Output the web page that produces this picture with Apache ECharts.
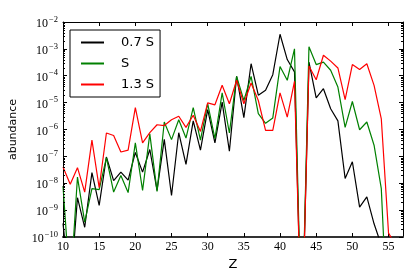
<!DOCTYPE html>
<html>
<head>
<meta charset="utf-8">
<script src="https://cdn.jsdelivr.net/npm/echarts@6/dist/echarts.min.js"></script>
<style>html,body{margin:0;padding:0;background:#fff;}#c{width:415px;height:280px;}</style>
</head>
<body>
<div id="c"></div>
<script>
const zValues = [10,11,12,13,14,15,16,17,18,19,20,21,22,23,24,25,26,27,28,29,30,31,32,33,34,35,36,37,38,39,40,41,42,43,44,45,46,47,48,49,50,51,52,53,54,55,56];
const seriesNames = ['0.7 S', 'S', '1.3 S'];
const abund07 = [3.2e-10,1e-12,2.9e-9,2.3e-10,2.5e-8,1.5e-9,9.5e-8,1.26e-8,2.6e-8,1.3e-8,1.4e-7,2.6e-8,1.8e-7,5.4e-9,4.3e-7,3.5e-9,7.6e-7,5.0e-8,2.1e-6,1.7e-7,5.5e-6,3.2e-7,1.05e-5,1.55e-7,9.5e-5,2.75e-6,2.8e-4,1.9e-5,2.9e-5,1.1e-4,3.5e-3,4.0e-4,1.4e-4,1e-14,3.2e-4,1.5e-5,3.3e-5,5.9e-6,2.1e-6,1.5e-8,6.3e-8,1.3e-9,3.1e-9,3.1e-10,5e-11,1e-14,1e-14];
const abund10 = [7.9e-9,1e-12,1.7e-8,3.6e-10,6.3e-9,5.8e-9,8.9e-8,4.7e-9,1.95e-8,4.5e-9,3.2e-7,5.4e-9,6.9e-7,5.0e-9,1.9e-6,4.2e-7,2.3e-6,4.8e-7,6.5e-6,4.0e-7,9.1e-6,4.6e-7,2.3e-5,7.4e-7,9.5e-5,1.2e-5,9.5e-5,3.9e-6,1.7e-6,2.7e-6,2.2e-4,6.8e-5,1.0e-3,1e-14,1.2e-3,2.6e-4,3.2e-4,1.6e-4,3.8e-5,1.2e-6,1.1e-5,9.8e-7,1.9e-6,2.6e-7,6.3e-9,1e-14,1e-14];
const abund13 = [4.0e-8,9.1e-9,3.8e-8,4.7e-9,4.0e-7,6.8e-9,7.4e-7,6.0e-7,1.45e-7,1.7e-7,6.5e-6,3.2e-7,7.6e-7,1.5e-6,1.4e-6,2.3e-6,3.1e-6,1.2e-6,3.4e-6,8.5e-7,9.8e-6,8.3e-6,4.4e-5,9.1e-6,6.8e-5,9.1e-6,5.4e-5,1.2e-5,9.3e-7,9.3e-7,2.3e-5,2.9e-6,6.2e-5,1e-14,2.3e-4,7.1e-5,5.8e-4,3.5e-4,1.95e-4,1.3e-5,2.6e-4,1.7e-4,2.8e-4,4.4e-5,2.5e-6,1.4e-10,5e-11];
const xTickLabels = ['10','15','20','25','30','35','40','45','50','55'];
const yTickExponents = [-10,-9,-8,-7,-6,-5,-4,-3,-2];
const colors = ['#000000', '#008000', '#ff0000'];

const decades = [-10,-9,-8,-7,-6,-5,-4,-3];
const minorMult = [2,3,4,5,6,7,8,9];
const minorTicks = [];
decades.forEach(d => minorMult.forEach(m => minorTicks.push([m * Math.pow(10, d)])));

function pairs(arr){ return zValues.map((z,i)=>[z, arr[i]]); }

const chart = echarts.init(document.getElementById('c'), null, {renderer:'canvas'});
const serif = 'Liberation Serif';
const sans = 'DejaVu Sans';
chart.setOption({
  animation: false,
  backgroundColor: '#ffffff',
  grid: {left: 62, right: 12, top: 22, bottom: 43, containLabel: false},
  legend: {
    show: true, orient: 'vertical', left: 70, top: 30,
    data: seriesNames.map(n => ({name: n, itemStyle: {opacity: 0}})),
    itemStyle: {opacity: 0},
    borderColor: '#000', borderWidth: 1, borderRadius: 0,
    padding: [6, 6, 6, 10], itemWidth: 23, itemHeight: 14, itemGap: 8,
    textStyle: {fontFamily: sans, fontSize: 13, color: '#000', padding: [0,0,0,12]}
  },
  xAxis: [{
    type: 'value', min: 10, max: 57, interval: 5,
    name: 'Z', nameLocation: 'middle', nameGap: 17,
    nameTextStyle: {fontFamily: sans, fontSize: 13, color: '#000'},
    axisLine: {show: true, onZero: false, lineStyle: {color: '#333', width: 2}},
    axisTick: {show: true, inside: true, length: 4, lineStyle: {color: '#000'}},
    axisLabel: {show: true, margin: 4, fontFamily: serif, fontSize: 12, color: '#000',
      showMaxLabel: false,
      formatter: v => { const s = String(v); return xTickLabels.indexOf(s) >= 0 ? s : ''; }},
    splitLine: {show: false}
  }, {
    type: 'value', min: 10, max: 57, interval: 5, position: 'top',
    axisLine: {show: true, onZero: false, lineStyle: {color: '#000', width: 1}},
    axisTick: {show: true, inside: true, length: 4, lineStyle: {color: '#000'}},
    axisLabel: {show: false}, splitLine: {show: false}
  }],
  yAxis: [{
    type: 'log', logBase: 10, min: 1e-10, max: 1e-2,
    name: 'abundance', nameLocation: 'middle', nameGap: 44, nameRotate: 90,
    nameTextStyle: {fontFamily: sans, fontSize: 11, color: '#000'},
    axisLine: {show: true, onZero: false, lineStyle: {color: '#000', width: 1}},
    axisTick: {show: true, inside: true, length: 4, lineStyle: {color: '#000'}},
    axisLabel: {show: true, margin: 5,
      formatter: v => {
        const e = Math.round(Math.log10(v));
        if (yTickExponents.indexOf(e) < 0) return '';
        return '{b|10}{s|' + (e < 0 ? '\u2212' : '') + Math.abs(e) + '}';
      },
      rich: {
        b: {fontFamily: serif, fontSize: 12, color: '#000', padding: [4,0,0,0]},
        s: {fontFamily: serif, fontSize: 8.5, color: '#000', padding: [0,0,5,1]}
      }},
    splitLine: {show: false}
  }, {
    type: 'log', logBase: 10, min: 1e-10, max: 1e-2, position: 'right',
    axisLine: {show: true, onZero: false, lineStyle: {color: '#000', width: 1}},
    axisTick: {show: true, inside: true, length: 4, lineStyle: {color: '#000'}},
    axisLabel: {show: false}, splitLine: {show: false}
  }],
  series: [
    {name: seriesNames[0], type: 'line', data: pairs(abund07), symbol: 'none', clip: true,
      lineStyle: {color: colors[0], width: 1.2}, itemStyle: {color: colors[0]}, z: 3},
    {name: seriesNames[1], type: 'line', data: pairs(abund10), symbol: 'none', clip: true,
      lineStyle: {color: colors[1], width: 1.2}, itemStyle: {color: colors[1]}, z: 3},
    {name: seriesNames[2], type: 'line', data: pairs(abund13), symbol: 'none', clip: true,
      lineStyle: {color: colors[2], width: 1.2}, itemStyle: {color: colors[2]}, z: 3},
    {name: 'minorTicks', type: 'custom', data: minorTicks, silent: true, z: 4,
      encode: {y: 0},
      renderItem: (params, api) => {
        const v = api.value(0);
        const l = api.coord([10, v]);
        const r = api.coord([57, v]);
        const st = {stroke: '#000', lineWidth: 1};
        return {type: 'group', children: [
          {type: 'line', shape: {x1: l[0], y1: Math.round(l[1])+0.5, x2: l[0]+2, y2: Math.round(l[1])+0.5}, style: st},
          {type: 'line', shape: {x1: r[0]-2, y1: Math.round(r[1])+0.5, x2: r[0], y2: Math.round(r[1])+0.5}, style: st}
        ]};
      }}
  ]
});
</script>
</body>
</html>
